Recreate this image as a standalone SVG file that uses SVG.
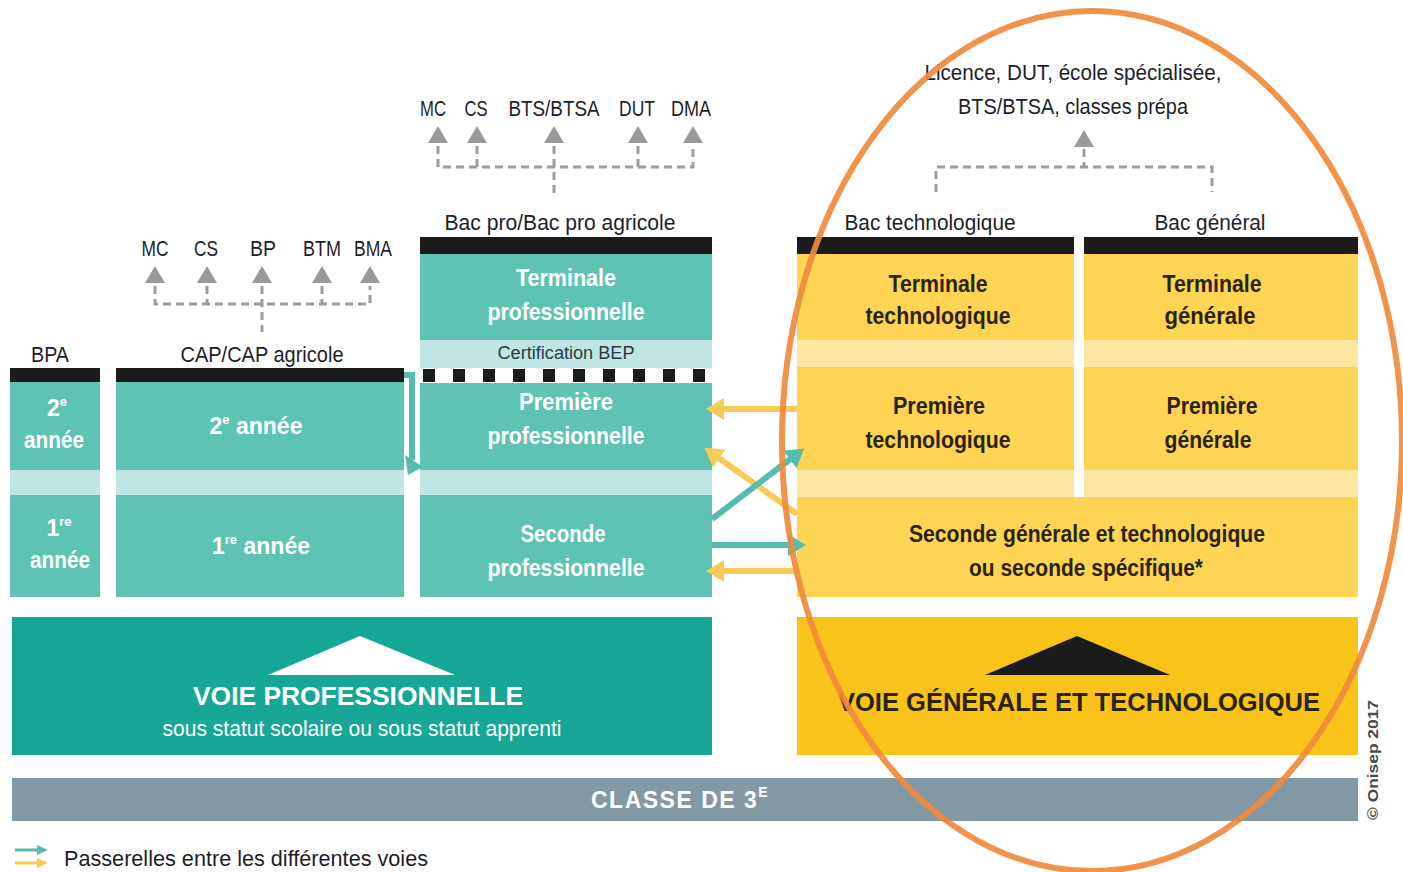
<svg xmlns="http://www.w3.org/2000/svg" xmlns:xlink="http://www.w3.org/1999/xlink" width="1403" height="872" viewBox="0 0 1403 872">
<defs>
<style>
text{font-family:"Liberation Sans","DejaVu Sans",sans-serif;}
.lbl{font-size:22px;fill:#1e1e2a;}
.wt{font-size:23px;fill:#ffffff;font-weight:bold;}
.dk{font-size:23px;fill:#2a2410;font-weight:bold;}
.teal{fill:#5fc3b4;}
.tband{fill:#bfe6e2;}
.yel{fill:#fdd453;}
.yband{fill:#fde6a2;}
.bar{fill:#1b1b1b;}
.dash{stroke:#9c9c9c;stroke-width:3;stroke-dasharray:8 5;fill:none;}
.tri{fill:#9a9a9a;}
.pt{stroke:#55bcae;stroke-width:6;fill:none;}
.py{stroke:#f8cb57;stroke-width:6;fill:none;}
</style>
<polygon id="tri" points="0,-9 10,8 -10,8"/>
<marker id="ahT" markerUnits="userSpaceOnUse" markerWidth="22" markerHeight="22" refX="4" refY="11" orient="auto">
<polygon points="0,0 18,11 0,22" fill="#55bcae"/>
</marker>
<marker id="ahY" markerUnits="userSpaceOnUse" markerWidth="22" markerHeight="22" refX="4" refY="11" orient="auto">
<polygon points="0,0 18,11 0,22" fill="#f8cb57"/>
</marker>
</defs>
<rect width="1403" height="872" fill="#ffffff"/>

<!-- top trees -->
<g id="tree-cap">
<text class="lbl" x="155" y="248" text-anchor="middle" dominant-baseline="central" textLength="27" lengthAdjust="spacingAndGlyphs">MC</text>
<text class="lbl" x="206" y="248" text-anchor="middle" dominant-baseline="central" textLength="24" lengthAdjust="spacingAndGlyphs">CS</text>
<text class="lbl" x="263" y="248" text-anchor="middle" dominant-baseline="central" textLength="26" lengthAdjust="spacingAndGlyphs">BP</text>
<text class="lbl" x="322" y="248" text-anchor="middle" dominant-baseline="central" textLength="38" lengthAdjust="spacingAndGlyphs">BTM</text>
<text class="lbl" x="373" y="248" text-anchor="middle" dominant-baseline="central" textLength="38" lengthAdjust="spacingAndGlyphs">BMA</text>
<use xlink:href="#tri" class="tri" x="155" y="275"/>
<use xlink:href="#tri" class="tri" x="207" y="275"/>
<use xlink:href="#tri" class="tri" x="262" y="275"/>
<use xlink:href="#tri" class="tri" x="322" y="275"/>
<use xlink:href="#tri" class="tri" x="370" y="275"/>
<path class="dash" d="M155,286 V304 H370 V286 M207,286 V304 M262,286 V332 M322,286 V304"/>
</g>
<g id="tree-bacpro">
<text class="lbl" x="433" y="108" text-anchor="middle" dominant-baseline="central" textLength="26" lengthAdjust="spacingAndGlyphs">MC</text>
<text class="lbl" x="476" y="108" text-anchor="middle" dominant-baseline="central" textLength="23" lengthAdjust="spacingAndGlyphs">CS</text>
<text class="lbl" x="554" y="108" text-anchor="middle" dominant-baseline="central" textLength="91" lengthAdjust="spacingAndGlyphs">BTS/BTSA</text>
<text class="lbl" x="637" y="108" text-anchor="middle" dominant-baseline="central" textLength="36" lengthAdjust="spacingAndGlyphs">DUT</text>
<text class="lbl" x="691" y="108" text-anchor="middle" dominant-baseline="central" textLength="40" lengthAdjust="spacingAndGlyphs">DMA</text>
<use xlink:href="#tri" class="tri" x="438" y="135"/>
<use xlink:href="#tri" class="tri" x="477" y="135"/>
<use xlink:href="#tri" class="tri" x="554" y="135"/>
<use xlink:href="#tri" class="tri" x="638" y="135"/>
<use xlink:href="#tri" class="tri" x="693" y="135"/>
<path class="dash" d="M438,146 V167 H693 V146 M477,146 V167 M554,146 V196 M638,146 V167"/>
</g>
<g id="tree-gt">
<text class="lbl" x="1073" y="72" text-anchor="middle" dominant-baseline="central" textLength="297" lengthAdjust="spacingAndGlyphs">Licence, DUT, école spécialisée,</text>
<text class="lbl" x="1073" y="106" text-anchor="middle" dominant-baseline="central" textLength="230" lengthAdjust="spacingAndGlyphs">BTS/BTSA, classes prépa</text>
<use xlink:href="#tri" class="tri" x="1084" y="139"/>
<path class="dash" d="M936,192 V167 H1212 V192 M1084,149 V167"/>
</g>

<!-- BPA -->
<g id="bpa">
<text class="lbl" x="50" y="354" text-anchor="middle" dominant-baseline="central" textLength="38" lengthAdjust="spacingAndGlyphs">BPA</text>
<rect class="bar" x="10" y="368" width="90" height="14"/>
<rect class="teal" x="10" y="382" width="90" height="88"/>
<rect class="tband" x="10" y="470" width="90" height="25"/>
<rect class="teal" x="10" y="495" width="90" height="102"/>
<text class="wt" x="57" y="408" text-anchor="middle" dominant-baseline="central">2<tspan font-size="13" dy="-7">e</tspan></text>
<text class="wt" x="54" y="440" text-anchor="middle" dominant-baseline="central" textLength="60" lengthAdjust="spacingAndGlyphs">année</text>
<text class="wt" x="59" y="528" text-anchor="middle" dominant-baseline="central">1<tspan font-size="13" dy="-7">re</tspan></text>
<text class="wt" x="60" y="560" text-anchor="middle" dominant-baseline="central" textLength="60" lengthAdjust="spacingAndGlyphs">année</text>
</g>

<!-- CAP -->
<g id="cap">
<text class="lbl" x="262" y="354" text-anchor="middle" dominant-baseline="central" textLength="163" lengthAdjust="spacingAndGlyphs">CAP/CAP agricole</text>
<rect class="bar" x="116" y="368" width="288" height="14"/>
<rect class="teal" x="116" y="382" width="288" height="88"/>
<rect class="tband" x="116" y="470" width="288" height="25"/>
<rect class="teal" x="116" y="495" width="288" height="102"/>
<text class="wt" x="256" y="426" text-anchor="middle" dominant-baseline="central">2<tspan font-size="13" dy="-7">e</tspan><tspan dy="7"> année</tspan></text>
<text class="wt" x="261" y="546" text-anchor="middle" dominant-baseline="central">1<tspan font-size="13" dy="-7">re</tspan><tspan dy="7"> année</tspan></text>
</g>

<!-- Bac pro -->
<g id="bacpro">
<text class="lbl" x="560" y="222" text-anchor="middle" dominant-baseline="central" textLength="231" lengthAdjust="spacingAndGlyphs">Bac pro/Bac pro agricole</text>
<rect class="bar" x="420" y="237" width="292" height="17"/>
<rect class="teal" x="420" y="254" width="292" height="86"/>
<rect class="tband" x="420" y="340" width="292" height="28"/>
<line x1="423" y1="375.5" x2="712" y2="375.5" stroke="#1b1b1b" stroke-width="13" stroke-dasharray="12 18"/>
<rect class="teal" x="420" y="383" width="292" height="87"/>
<rect class="tband" x="420" y="470" width="292" height="25"/>
<rect class="teal" x="420" y="495" width="292" height="102"/>
<text class="wt" x="566" y="278" text-anchor="middle" dominant-baseline="central" textLength="100" lengthAdjust="spacingAndGlyphs">Terminale</text>
<text class="wt" x="566" y="312" text-anchor="middle" dominant-baseline="central" textLength="157" lengthAdjust="spacingAndGlyphs">professionnelle</text>
<text x="566" y="353" text-anchor="middle" dominant-baseline="central" font-size="18" fill="#2a3a44" textLength="137" lengthAdjust="spacingAndGlyphs">Certification BEP</text>
<text class="wt" x="566" y="402" text-anchor="middle" dominant-baseline="central" textLength="94" lengthAdjust="spacingAndGlyphs">Première</text>
<text class="wt" x="566" y="436" text-anchor="middle" dominant-baseline="central" textLength="157" lengthAdjust="spacingAndGlyphs">professionnelle</text>
<text class="wt" x="563" y="534" text-anchor="middle" dominant-baseline="central" textLength="85" lengthAdjust="spacingAndGlyphs">Seconde</text>
<text class="wt" x="566" y="568" text-anchor="middle" dominant-baseline="central" textLength="157" lengthAdjust="spacingAndGlyphs">professionnelle</text>
</g>

<!-- Bac technologique -->
<g id="bactechno">
<text class="lbl" x="930" y="222" text-anchor="middle" dominant-baseline="central" textLength="171" lengthAdjust="spacingAndGlyphs">Bac technologique</text>
<rect class="bar" x="797" y="237" width="277" height="17"/>
<rect class="yel" x="797" y="254" width="277" height="86"/>
<rect class="yband" x="797" y="340" width="277" height="27"/>
<rect class="yel" x="797" y="367" width="277" height="103"/>
<rect class="yband" x="797" y="470" width="277" height="27"/>
<text class="dk" x="938" y="284" text-anchor="middle" dominant-baseline="central" textLength="99" lengthAdjust="spacingAndGlyphs">Terminale</text>
<text class="dk" x="938" y="316" text-anchor="middle" dominant-baseline="central" textLength="145" lengthAdjust="spacingAndGlyphs">technologique</text>
<text class="dk" x="939" y="406" text-anchor="middle" dominant-baseline="central" textLength="92" lengthAdjust="spacingAndGlyphs">Première</text>
<text class="dk" x="938" y="440" text-anchor="middle" dominant-baseline="central" textLength="145" lengthAdjust="spacingAndGlyphs">technologique</text>
</g>

<!-- Bac general -->
<g id="bacgeneral">
<text class="lbl" x="1210" y="222" text-anchor="middle" dominant-baseline="central" textLength="111" lengthAdjust="spacingAndGlyphs">Bac général</text>
<rect class="bar" x="1084" y="237" width="274" height="17"/>
<rect class="yel" x="1084" y="254" width="274" height="86"/>
<rect class="yband" x="1084" y="340" width="274" height="27"/>
<rect class="yel" x="1084" y="367" width="274" height="103"/>
<rect class="yband" x="1084" y="470" width="274" height="27"/>
<text class="dk" x="1212" y="284" text-anchor="middle" dominant-baseline="central" textLength="99" lengthAdjust="spacingAndGlyphs">Terminale</text>
<text class="dk" x="1210" y="316" text-anchor="middle" dominant-baseline="central" textLength="91" lengthAdjust="spacingAndGlyphs">générale</text>
<text class="dk" x="1212" y="406" text-anchor="middle" dominant-baseline="central" textLength="91" lengthAdjust="spacingAndGlyphs">Première</text>
<text class="dk" x="1208" y="440" text-anchor="middle" dominant-baseline="central" textLength="87" lengthAdjust="spacingAndGlyphs">générale</text>
</g>

<!-- Seconde GT -->
<g id="seconde-gt">
<rect class="yel" x="797" y="497" width="561" height="100"/>
<text class="dk" x="1087" y="534" text-anchor="middle" dominant-baseline="central" textLength="356" lengthAdjust="spacingAndGlyphs">Seconde générale et technologique</text>
<text class="dk" x="1086" y="568" text-anchor="middle" dominant-baseline="central" textLength="234" lengthAdjust="spacingAndGlyphs">ou seconde spécifique*</text>
</g>

<!-- Voie pro -->
<g id="voie-pro">
<rect x="12" y="617" width="700" height="138" fill="#16a797"/>
<polygon points="360,636 455,675 268,675" fill="#ffffff"/>
<text x="358" y="696" text-anchor="middle" dominant-baseline="central" font-size="25" font-weight="bold" fill="#ffffff" textLength="330" lengthAdjust="spacingAndGlyphs">VOIE PROFESSIONNELLE</text>
<text x="362" y="728" text-anchor="middle" dominant-baseline="central" font-size="22" fill="#ffffff" textLength="399" lengthAdjust="spacingAndGlyphs">sous statut scolaire ou sous statut apprenti</text>
</g>

<!-- Voie GT -->
<g id="voie-gt">
<rect x="797" y="617" width="561" height="138" fill="#f9c31a"/>
<polygon points="1077,636 1170,675 985,675" fill="#1b1b1b"/>
<text x="1079" y="702" text-anchor="middle" dominant-baseline="central" font-size="25" font-weight="bold" fill="#2a2410" textLength="482" lengthAdjust="spacingAndGlyphs">VOIE GÉNÉRALE ET TECHNOLOGIQUE</text>
</g>

<!-- Classe de 3e -->
<g id="classe3">
<rect x="12" y="778" width="1346" height="43" fill="#8399a5"/>
<text x="591" y="800" dominant-baseline="central" font-size="23" font-weight="bold" fill="#ffffff" letter-spacing="1.5">CLASSE DE 3<tspan font-size="14" dy="-8">E</tspan></text>
</g>

<!-- connectors -->
<g id="connectors">
<path class="pt" d="M404,375 H412 V460" />
<polygon points="405,455 423,467 408,475" fill="#55bcae"/>
<line class="py" x1="797" y1="409" x2="720" y2="409" marker-end="url(#ahY)"/>
<line class="py" x1="797" y1="514" x2="716" y2="456" marker-end="url(#ahY)"/>
<line class="pt" x1="712" y1="519" x2="793" y2="457" marker-end="url(#ahT)"/>
<line class="pt" x1="712" y1="545" x2="792" y2="545" marker-end="url(#ahT)"/>
<line class="py" x1="797" y1="571" x2="720" y2="571" marker-end="url(#ahY)"/>
</g>

<!-- legend -->
<g id="legend">
<line x1="15" y1="850" x2="38" y2="850" stroke="#55bcae" stroke-width="3"/>
<polygon points="37,845 48,850 37,855" fill="#55bcae"/>
<line x1="15" y1="863" x2="38" y2="863" stroke="#f8cb57" stroke-width="3"/>
<polygon points="37,858 48,863 37,868" fill="#f8cb57"/>
<text class="lbl" x="64" y="858" dominant-baseline="central" textLength="364" lengthAdjust="spacingAndGlyphs">Passerelles entre les différentes voies</text>
</g>

<text x="1372" y="760" text-anchor="middle" dominant-baseline="central" font-size="15" font-weight="bold" fill="#4a4a4a" transform="rotate(-90 1372 760)" textLength="120" lengthAdjust="spacingAndGlyphs">© Onisep 2017</text>

<!-- orange highlight ellipse -->
<ellipse id="highlight" cx="1092" cy="441" rx="310" ry="430" fill="none" stroke="#f08a3c" stroke-width="6" opacity="0.92"/>
</svg>
